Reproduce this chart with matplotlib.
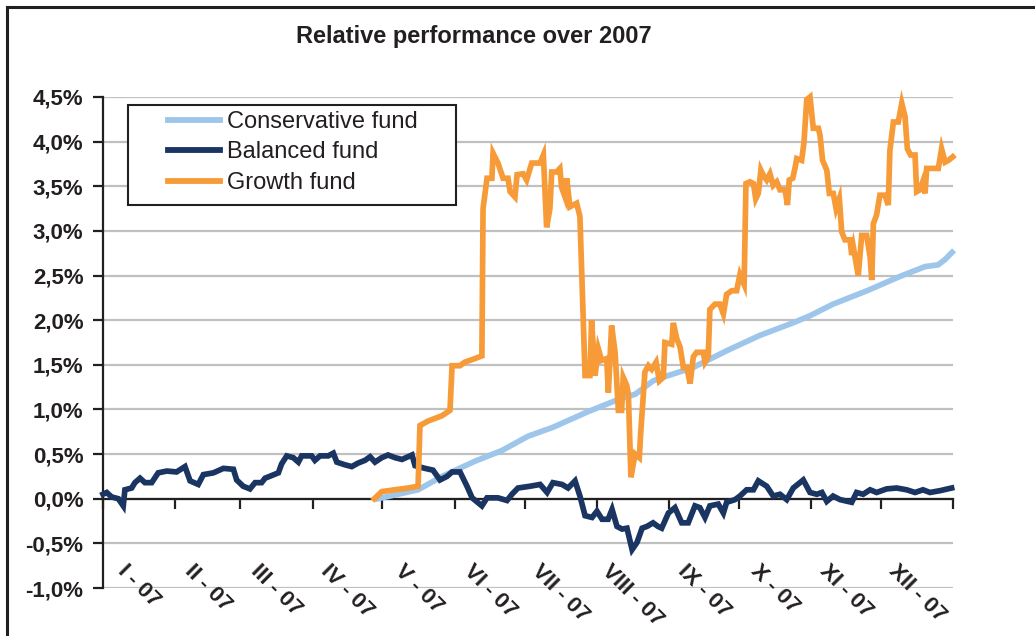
import matplotlib
matplotlib.use("Agg")
import matplotlib.pyplot as plt
import pandas as pd
from matplotlib.lines import Line2D
from matplotlib.patches import Rectangle

# ---------------- data ----------------
title = "Relative performance over 2007"
series_names = ["Conservative fund", "Balanced fund", "Growth fund"]
month_labels = ["I - 07", "II - 07", "III - 07", "IV - 07", "V - 07", "VI - 07",
                "VII - 07", "VIII - 07", "IX - 07", "X - 07", "XI - 07", "XII - 07"]
y_ticks = [-1.0, -0.5, 0.0, 0.5, 1.0, 1.5, 2.0, 2.5, 3.0, 3.5, 4.0, 4.5]
y_tick_labels = ["-1,0%", "-0,5%", "0,0%", "0,5%", "1,0%", "1,5%",
                 "2,0%", "2,5%", "3,0%", "3,5%", "4,0%", "4,5%"]

# days elapsed since 1 Jan 2007, values in %
conservative_day = [118, 135.3, 145.6, 159.7, 171.3, 182.5, 193.2, 207.8, 222.0, 228.5,
                    236.2, 239.2, 253.4, 268.0, 282.1, 296.3, 303.6, 313.5, 328.1, 342.2,
                    353.0, 358.6, 361.6, 364.6]
conservative_val = [0.00, 0.10, 0.25, 0.42, 0.54, 0.70, 0.80, 0.97, 1.12, 1.17,
                    1.32, 1.35, 1.47, 1.66, 1.83, 1.97, 2.05, 2.18, 2.33, 2.49,
                    2.60, 2.62, 2.68, 2.76]

balanced_day = [0, 1.6, 3.7, 6.6, 8.7, 9.4, 12.3, 13.7, 15.9, 18.0,
                20.9, 23.7, 27.4, 31.6, 35.2, 37.4, 40.9, 43.1, 47.4, 51.7,
                56.0, 57.4, 60.2, 63.1, 65.3, 68.1, 69.6, 72.4, 75.3, 76.7,
                78.9, 81.7, 83.9, 85.3, 89.6, 91.0, 93.2, 96.7, 98.9, 100.4,
                103.9, 106.8, 109.6, 112.5, 114.7, 116.8, 119.7, 122.4, 125.4, 128.4,
                132.7, 134.0, 138.3, 141.7, 144.7, 147.7, 149.9, 153.3, 156.3, 158.5,
                162.7, 164.9, 169.6, 173.5, 175.6, 178.2, 183.4, 187.7, 190.7, 193.2,
                197.1, 199.7, 202.7, 204.8, 207.0, 210.0, 212.1, 214.3, 216.9, 218.6,
                220.7, 222.9, 225.0, 227.2, 229.3, 231.5, 233.6, 236.2, 238.3, 239.9,
                242.8, 245.6, 248.5, 251.3, 254.2, 256.3, 258.5, 260.6, 264.2, 266.4,
                267.8, 271.4, 273.5, 276.4, 279.3, 281.4, 285.0, 287.8, 290.7, 293.6,
                296.4, 300.7, 303.6, 306.5, 308.7, 310.8, 313.5, 316.5, 321.5, 323.6,
                326.4, 329.4, 332.2, 336.5, 340.8, 345.1, 348.7, 352.1, 355.1, 359.4,
                364.4]
balanced_val = [0.05, 0.07, 0.02, 0.0, -0.08, 0.10, 0.12, 0.18, 0.23, 0.18,
                0.18, 0.29, 0.31, 0.30, 0.36, 0.20, 0.16, 0.27, 0.29, 0.34,
                0.33, 0.21, 0.14, 0.11, 0.18, 0.18, 0.23, 0.26, 0.29, 0.39,
                0.48, 0.46, 0.41, 0.48, 0.48, 0.43, 0.48, 0.48, 0.51, 0.41,
                0.38, 0.36, 0.40, 0.43, 0.47, 0.41, 0.46, 0.49, 0.46, 0.44,
                0.49, 0.37, 0.34, 0.32, 0.21, 0.25, 0.30, 0.30, 0.14, 0.01,
                -0.08, 0.01, 0.01, -0.02, 0.05, 0.12, 0.14, 0.16, 0.07, 0.18,
                0.16, 0.12, 0.20, 0.03, -0.19, -0.21, -0.14, -0.23, -0.23, -0.12,
                -0.31, -0.34, -0.33, -0.57, -0.49, -0.33, -0.31, -0.27, -0.31, -0.33,
                -0.16, -0.10, -0.27, -0.27, -0.08, -0.10, -0.21, -0.08, -0.06, -0.16,
                -0.04, -0.01, 0.03, 0.10, 0.10, 0.20, 0.14, 0.03, 0.05, -0.01,
                0.12, 0.21, 0.07, 0.05, 0.07, -0.03, 0.03, -0.01, -0.04, 0.07,
                0.05, 0.10, 0.07, 0.11, 0.12, 0.10, 0.07, 0.10, 0.07, 0.09,
                0.12]

growth_day = [116.5, 119.7, 125.4, 131.0, 135.3, 136.1, 139.6, 145.6, 149.0, 149.9,
              153.3, 155.4, 159.7, 162.7, 163.2, 164.9, 167.0, 167.5, 169.6, 171.8,
              173.9, 174.8, 176.9, 177.8, 180.4, 181.9, 184.1, 187.7, 189.1, 190.5,
              191.9, 192.7, 194.8, 196.2, 196.9, 198.4, 199.1, 200.5, 203.4, 204.8,
              207.0, 209.1, 209.8, 211.3, 212.7, 214.1, 216.3, 217.0, 218.4, 219.9,
              221.3, 222.7, 223.4, 224.9, 225.6, 226.7, 228.5, 230.3, 230.9, 232.7,
              234.2, 235.6, 237.5, 238.9, 240.6, 241.3, 244.2, 244.9, 246.4, 247.8,
              249.2, 250.7, 252.1, 253.5, 254.9, 257.8, 258.5, 259.9, 260.6, 262.8,
              264.9, 266.4, 267.8, 270.0, 272.1, 273.5, 275.3, 276.1, 277.8, 279.3,
              280.3, 281.4, 282.5, 283.6, 285.0, 286.4, 287.8, 289.3, 290.7, 292.9,
              293.9, 294.7, 296.2, 297.2, 297.9, 300.0, 301.0, 302.2, 303.6, 305.0,
              307.2, 307.9, 309.0, 310.8, 311.9, 313.6, 314.8, 316.2, 317.2, 318.6,
              320.8, 321.5, 322.2, 324.3, 325.8, 327.9, 329.4, 330.1, 330.8, 332.2,
              333.6, 335.8, 337.2, 337.9, 339.4, 341.5, 343.0, 344.4, 345.4, 346.8,
              348.7, 349.4, 350.8, 352.0, 353.0, 353.7, 358.7, 360.1, 361.6, 363.0,
              364.9]
growth_val = [0.00, 0.08, 0.10, 0.12, 0.14, 0.82, 0.87, 0.93, 0.99, 1.49,
              1.49, 1.53, 1.57, 1.60, 3.25, 3.59, 3.59, 3.87, 3.76, 3.59,
              3.59, 3.44, 3.38, 3.63, 3.64, 3.57, 3.76, 3.76, 3.85, 3.04,
              3.25, 3.66, 3.66, 3.70, 3.49, 3.38, 3.59, 3.27, 3.31, 3.16,
              1.38, 1.38, 2.00, 1.38, 1.68, 1.55, 1.57, 1.19, 1.94, 1.64,
              0.99, 0.99, 1.36, 1.27, 1.17, 0.24, 0.50, 0.46, 0.74, 1.42,
              1.49, 1.45, 1.53, 1.32, 1.36, 1.75, 1.73, 1.97, 1.79, 1.70,
              1.47, 1.47, 1.29, 1.59, 1.64, 1.64, 1.53, 1.59, 2.12, 2.18,
              2.18, 2.07, 2.29, 2.33, 2.33, 2.51, 2.40, 3.53, 3.55, 3.53,
              3.36, 3.42, 3.68, 3.62, 3.57, 3.64, 3.51, 3.55, 3.46, 3.46,
              3.29, 3.57, 3.59, 3.71, 3.81, 3.79, 3.99, 4.47, 4.50, 4.15,
              4.15, 4.07, 3.79, 3.68, 3.42, 3.42, 3.25, 3.36, 2.99, 2.90,
              2.90, 2.73, 2.82, 2.50, 2.95, 2.95, 2.71, 2.45, 3.08, 3.18,
              3.40, 3.40, 3.29, 3.90, 4.22, 4.22, 4.43, 4.28, 3.92, 3.85,
              3.85, 3.44, 3.46, 3.55, 3.42, 3.70, 3.70, 3.92, 3.77, 3.79,
              3.83]

colors = ["#9DC6EA", "#1B3563", "#F79B38"]

# ---------------- figure ----------------
W, H = 1035, 636
plt.rcParams["font.family"] = ["Liberation Sans", "DejaVu Sans"]
fig = plt.figure(figsize=(W / 100, H / 100), dpi=100)
fig.patch.set_facecolor("white")

ax = fig.add_axes([103 / W, 1 - 588 / H, 850 / W, 491 / H])
ax.set_facecolor("none")

start = pd.Timestamp("2007-01-01")
def to_dates(days):
    return start + pd.to_timedelta(days, unit="D")

month_starts = pd.date_range("2007-01-01", "2008-01-01", freq="MS")

series = [(conservative_day, conservative_val),
          (balanced_day, balanced_val),
          (growth_day, growth_val)]
for (d, v), name, c, z in zip(series, series_names, colors, [3, 4, 5]):
    ax.plot(to_dates(d), v, color=c, lw=4.1, label=name, zorder=z,
            solid_joinstyle="miter", clip_on=False)

ax.set_xlim(month_starts[0], month_starts[-1])
ax.set_ylim(-1.0, 4.5)

# grid
ax.set_yticks(y_ticks)
ax.set_yticklabels(y_tick_labels)
ax.yaxis.grid(True, color="#C0C0C0", lw=1.6, zorder=0)
ax.set_axisbelow(True)

# spines
for s in ["top", "right"]:
    ax.spines[s].set_visible(False)
ax.spines["left"].set_color("#231F20")
ax.spines["left"].set_linewidth(1.6)
ax.spines["bottom"].set_position(("data", 0))
ax.spines["bottom"].set_color("#231F20")
ax.spines["bottom"].set_linewidth(1.6)
ax.spines["bottom"].set_zorder(2)

ax.set_xticks(month_starts)
ax.tick_params(axis="x", direction="out", length=7.5, width=1.6,
               color="#231F20", labelbottom=False)
ax.tick_params(axis="y", direction="out", length=7, width=1.6,
               color="#231F20", pad=7, labelsize=16, labelcolor="#231F20")
for lab in ax.get_yticklabels():
    lab.set_fontweight("bold")

# month labels, centred under each month
for i, lab in enumerate(month_labels):
    mid = month_starts[i] + (month_starts[i + 1] - month_starts[i]) / 2
    ax.text(mid, -0.69, lab, rotation=-45, ha="center", va="top",
            fontsize=16, fontweight="bold", color="#231F20", zorder=6)

# title
fig.text(473.5 / W, 1 - 36 / H, title, ha="center", va="center",
         fontsize=17, fontweight="bold", color="#231F20")

# legend box
box = Rectangle((128 / W, 1 - 205 / H), 328 / W, 100 / H, transform=fig.transFigure,
                facecolor="white", edgecolor="#231F20", lw=1.5, zorder=6)
ax.add_artist(box)
box.set_clip_on(False)
leg = ax.legend(loc="upper left", bbox_to_anchor=(168 / W, 1 - 111 / H),
                bbox_transform=fig.transFigure, frameon=False, fontsize=17,
                handlelength=2.2, handletextpad=0.3, labelspacing=0.36,
                borderpad=0, borderaxespad=0)
leg.set_zorder(7)
for t in leg.get_texts():
    t.set_color("#231F20")
for h in leg.get_lines():
    h.set_linewidth(4.2)

# outer frame (left and top edges visible)
fig.add_artist(Line2D([7 / W, 7 / W], [0, 1 - 7 / H], transform=fig.transFigure,
                      color="#231F20", lw=2.2))
fig.add_artist(Line2D([7 / W, 1], [1 - 7 / H, 1 - 7 / H], transform=fig.transFigure,
                      color="#231F20", lw=2.2))

fig.savefig("out.png", dpi=100)
